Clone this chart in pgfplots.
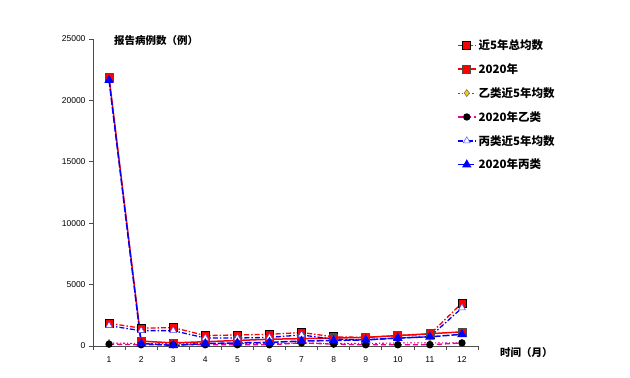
\documentclass[border=0pt]{standalone}
\usepackage{fontspec}
\setmainfont{Liberation Sans}
\newfontfamily\cjk{Noto Sans CJK SC}
\usepackage{pgfplots}
\pgfplotsset{compat=1.18}
\definecolor{myyellow}{RGB}{255,204,0}
\begin{document}
\begin{tikzpicture}[x=1pt,y=1pt]
\path[use as bounding box] (0,0) rectangle (630,378);
\begin{axis}[
  at={(93pt,32pt)}, anchor=south west,
  scale only axis, width=385pt, height=307pt,
  xmin=0.5, xmax=12.5, ymin=0, ymax=25000,
  axis lines=left, axis line style={-, black!70, line width=0.8pt},
  xtick={1,...,12},
  minor xtick={0.5,1.5,...,12.5},
  major x tick style={draw=none},
  minor x tick style={black!70, line width=0.6pt},
  ytick={0,5000,...,25000},
  y tick style={black!70, line width=0.6pt},
  tick align=outside, major tick length=4pt, minor tick length=4pt,
  scaled y ticks=false,
  /pgf/number format/.cd, set thousands separator={}, assume math mode=true,
  /pgfplots/.cd,
  tick label style={font=\fontsize{8.5}{10}\selectfont},
  xticklabel style={yshift=-3pt},
  clip=false,
  legend style={at={(rel axis cs:0.945,1.005)}, anchor=north west, draw=none, fill=none,
    font=\cjk\bfseries\fontsize{11.5}{13}\selectfont, row sep=8.5pt, inner sep=0pt,
    legend cell align=left, nodes={inner xsep=2pt}},
  legend image code/.code={
    \draw[mark repeat=2,mark phase=2,#1] plot coordinates {(0pt,0pt) (9pt,0pt) (18pt,0pt)};
  },
]
% 近5年总均数
\addplot[red, line width=1.3pt, dash pattern=on 5pt off 2pt on 1.5pt off 2pt,
  mark=square*, mark size=4pt, mark options={solid, fill=red, draw=black, line width=0.6pt}]
  coordinates {(1,1850)(2,1450)(3,1500)(4,850)(5,900)(6,950)(7,1100)(8,750)(9,700)(10,850)(11,950)(12,3500)};
\addlegendentry{近5年总均数}
% 2020年
\addplot[red, line width=1.5pt, solid,
  mark=square*, mark size=4pt, mark options={solid, fill=red, draw=black!70, line width=0.6pt}]
  coordinates {(1,21900)(2,400)(3,250)(4,350)(5,450)(6,550)(7,600)(8,650)(9,700)(10,850)(11,1000)(12,1150)};
\addlegendentry{2020年}
% 乙类近5年均数
\addplot[magenta, line width=1.1pt, dash pattern=on 2pt off 2pt on 1pt off 2pt,
  mark=diamond*, mark size=3.5pt, mark options={solid, fill=myyellow, draw=black!60, line width=0.5pt}]
  coordinates {(1,250)(2,200)(3,200)(4,200)(5,200)(6,200)(7,250)(8,200)(9,200)(10,250)(11,250)(12,250)};
\addlegendentry{乙类近5年均数}
% 2020年乙类
\addplot[magenta, line width=1.3pt, dash pattern=on 5pt off 3pt,
  mark=*, mark size=3pt, mark options={solid, fill=black, draw=black}]
  coordinates {(1,150)(2,100)(3,100)(4,100)(5,100)(6,100)(7,250)(8,150)(9,100)(10,100)(11,100)(12,250)};
\addlegendentry{2020年乙类}
% 丙类近5年均数
\addplot[blue, line width=1.3pt, dash pattern=on 5pt off 2pt on 1.5pt off 2pt,
  mark=triangle*, mark size=4pt, mark options={solid, fill=white, draw=blue!70, line width=0.5pt}]
  coordinates {(1,1650)(2,1250)(3,1250)(4,650)(5,650)(6,700)(7,900)(8,550)(9,500)(10,650)(11,750)(12,3100)};
\addlegendentry{丙类近5年均数}
% 2020年丙类
\addplot[blue, line width=1.5pt, dash pattern=on 7pt off 2pt,
  mark=triangle*, mark size=4pt, mark options={solid, fill=blue, draw=blue}]
  coordinates {(1,21650)(2,200)(3,50)(4,200)(5,250)(6,300)(7,400)(8,450)(9,500)(10,650)(11,750)(12,950)};
\addlegendentry{2020年丙类}
\end{axis}
\node[anchor=west, font=\cjk\bfseries\fontsize{10.5}{12}\selectfont, inner sep=0pt] at (114,337) {报告病例数（例）};
\node[anchor=west, font=\cjk\bfseries\fontsize{10.5}{12}\selectfont, inner sep=0pt] at (500,25) {时间（月）};
\end{tikzpicture}
\end{document}
